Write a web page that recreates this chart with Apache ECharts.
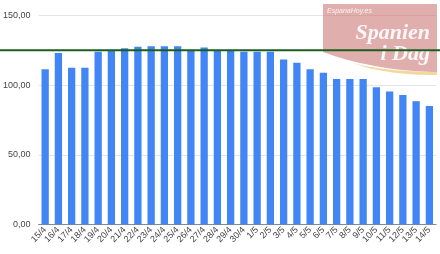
<!DOCTYPE html>
<html><head><meta charset="utf-8">
<script src="https://cdn.jsdelivr.net/npm/echarts@6/dist/echarts.min.js"></script>
<style>html,body{margin:0;padding:0;background:#fff}#c{width:440px;height:254px}</style>
</head><body><div id="c"></div>
<script>
const categories = ['15/4','16/4','17/4','18/4','19/4','20/4','21/4','22/4','23/4','24/4','25/4','26/4','27/4','28/4','29/4','30/4','1/5','2/5','3/5','4/5','5/5','6/5','7/5','8/5','9/5','10/5','11/5','12/5','13/5','14/5'];
const values = [111.5,123,112.5,112.5,124,125,126.5,127.5,128,128,128,125,127,125,125,124,124,124,118.5,116,111.5,109,104.5,104.5,104.5,98.5,95.5,93,88.5,85];
const thresholdValue = [125];
const yTicks = [0, 50, 100, 150];

const chart = echarts.init(document.getElementById('c'), null, {renderer:'canvas'});
const FONT = 'Liberation Sans, Arial, sans-serif';
chart.setOption({
  animation: false,
  grid: {left: 36, right: 4, top: 15.5, bottom: 29.5, containLabel: false},
  xAxis: {
    type: 'category', data: categories,
    axisLine: {show: true, lineStyle: {color: '#888', width: 1}},
    axisTick: {show: false},
    axisLabel: {rotate: 45, interval: 0, fontSize: 9, color: '#444', fontFamily: FONT, margin: 4}
  },
  yAxis: {
    type: 'value', min: yTicks[0], max: yTicks[yTicks.length-1], interval: 50,
    axisLine: {show: false}, axisTick: {show: false},
    splitLine: {lineStyle: {color: '#e4e4e4', width: 1}},
    axisLabel: {fontSize: 9, color: '#444', fontFamily: FONT, margin: 8,
      formatter: v => v.toFixed(2).replace('.', ',')}
  },
  series: [{
    type: 'bar', data: values, barCategoryGap: '45%',
    itemStyle: {color: '#4285f4'}
  }]
});

function bez(p0, p1, p2, p3, n) {
  const pts = [];
  for (let i = 0; i <= n; i++) {
    const t = i / n, u = 1 - t;
    pts.push([
      u*u*u*p0[0] + 3*u*u*t*p1[0] + 3*u*t*t*p2[0] + t*t*t*p3[0],
      u*u*u*p0[1] + 3*u*u*t*p1[1] + 3*u*t*t*p2[1] + t*t*t*p3[1]
    ]);
  }
  return pts;
}
const pinkPts = [[323,4],[437,4]].concat(bez([437,72],[405,72],[360,66],[323,52],20));
const goldTop = bez([352,63],[380,70],[410,72],[437,72],16);
const goldBot = bez([437,75],[405,75],[378,72],[352,63],16);

const yLine = chart.convertToPixel({yAxisIndex: 0}, thresholdValue[0]);
chart.setOption({
  graphic: [
    {type: 'group', z: 50, children: [
      {type: 'polygon', shape: {points: pinkPts}, style: {fill: 'rgba(205,120,120,0.6)'}},
      {type: 'polygon', shape: {points: goldTop.concat(goldBot)}, style: {fill: 'rgba(240,205,130,0.8)'}},
      {type: 'text', x: 327, y: 8, style: {text: 'EspanaHoy.es', fill: '#fff', font: 'italic 7px "Liberation Sans", Arial, sans-serif', opacity: 0.85}},
      {type: 'text', x: 430, y: 22, style: {text: 'Spanien', align: 'right', fill: '#fff', font: 'italic bold 22px "Liberation Serif", serif', opacity: 0.9}},
      {type: 'text', x: 430, y: 43, style: {text: 'i Dag', align: 'right', fill: '#fff', font: 'italic bold 22px "Liberation Serif", serif', opacity: 0.9}}
    ]},
    {type: 'line', z: 100, shape: {x1: 0, y1: yLine, x2: 440, y2: yLine},
      style: {stroke: '#1b5e20', lineWidth: 2}}
  ]
});
</script></body></html>
